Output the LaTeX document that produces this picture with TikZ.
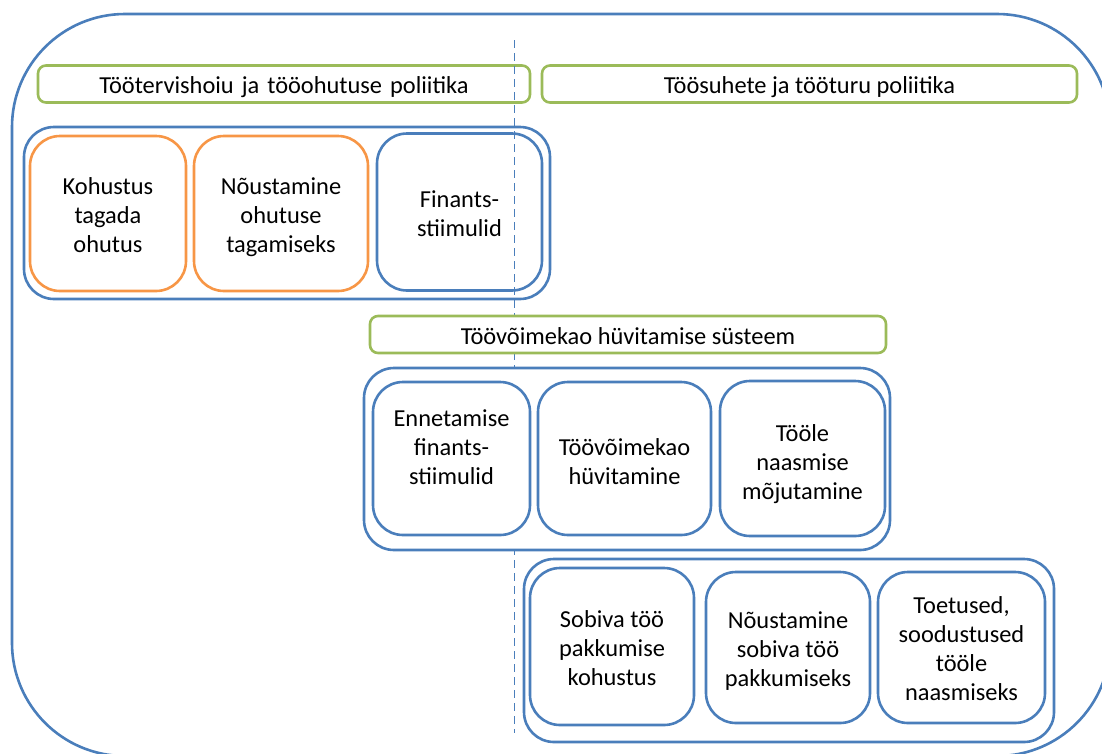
\documentclass[tikz,border=0pt]{standalone}
\usepackage{fontspec}
\setmainfont{Carlito}
\definecolor{fblue}{HTML}{4A7EBB}
\definecolor{hgreen}{HTML}{9BBB59}
\definecolor{borange}{HTML}{F79646}
\newcommand{\wsp}{\hspace{8pt}}
\newcommand{\tst}{\rule{0pt}{28.3pt}}
\begin{document}
\begin{tikzpicture}[x=1pt,y=-1pt,
  every node/.style={font=\fontsize{24.4}{29}\selectfont, align=center, inner sep=0pt},
  hbox/.style={draw=hgreen, line width=2.6pt, rounded corners=8pt, rectangle},
  gbox/.style={draw=fblue, line width=2.6pt, rounded corners=30pt, rectangle},
  obox/.style={draw=borange, line width=2.6pt, rounded corners=30pt, rectangle},
  bbox/.style={draw=fblue, line width=2.6pt, rounded corners=30pt, rectangle},
  wfill/.style={fill=white},
  wh/.style n args={2}{minimum width=#1pt, minimum height=#2pt},
  divider/.style={draw=fblue, line width=1.3pt, dash pattern=on 8pt off 5pt}
]
\useasboundingbox (0,0) rectangle (1102,753);
\begin{scope}
\clip (0,0) rectangle (1102,753);
\draw[fblue, line width=2.6pt, rounded corners=113pt] (12,14) rectangle (1110,756);
\end{scope}

% headers (top)
\node[hbox, wh={492}{36}] (h1) at (284,84) {\tst Töötervishoiu\wsp ja\wsp tööohutuse\wsp poliitika\strut};
\node[hbox, wh={535}{36}] (h2) at (809.5,84) {\tst Töösuhete ja tööturu poliitika\strut};

% group 1
\node[gbox, wh={526}{172}] (g1) at (287,213) {};
\node[obox, wh={156}{155}] (o1) at (108,213.5) {\tst Kohustus\\tagada\\ohutus\strut};
\node[obox, wh={174}{155}] (o2) at (281,213.5) {\tst Nõustamine\\ohutuse\\tagamiseks\strut};
\node[bbox, wh={165}{157}] (f1) at (459.5,212) {\tst Finants-\\stiimulid\strut};

% divider
\coordinate (dtop) at (514.5,40);
\coordinate (dbot) at (514.5,733);
\draw[divider] (dtop) -- (dbot);

% header 3
\node[hbox, wfill, wh={516}{35}] (h3) at (628,334.5) {\tst Töövõimekao hüvitamise süsteem\strut};

% group 2
\node[gbox, wfill, wh={526}{182}] (g2) at (627,459) {};
\node[bbox, wh={157}{153}] (e1) at (451.5,458.5) {};
\node (e1t) at (451.5,446) {\tst Ennetamise\\finants-\\stiimulid\strut};
\node[bbox, wh={173}{153}] (e2) at (624.5,458.5) {};
\node (e2t) at (624.5,460.5) {\tst Töövõimekao\\hüvitamine\strut};
\node[bbox, wh={165}{155}] (e3) at (802.5,458.5) {};
\node (e3t) at (802.5,461) {\tst Tööle\\naasmise\\mõjutamine\strut};

% group 3
\node[gbox, wh={530}{183}] (g3) at (789,650.5) {};
\node[bbox, wh={164}{157}] (s1) at (612,646.5) {\tst Sobiva töö\\pakkumise\\kohustus\strut};
\node[bbox, wh={164}{151}] (s2) at (788,647.5) {\tst Nõustamine\\sobiva töö\\pakkumiseks\strut};
\node[bbox, wh={167}{151}] (s3) at (961.5,647.5) {\tst Toetused,\\soodustused\\tööle\\naasmiseks\strut};
\end{tikzpicture}
\end{document}
